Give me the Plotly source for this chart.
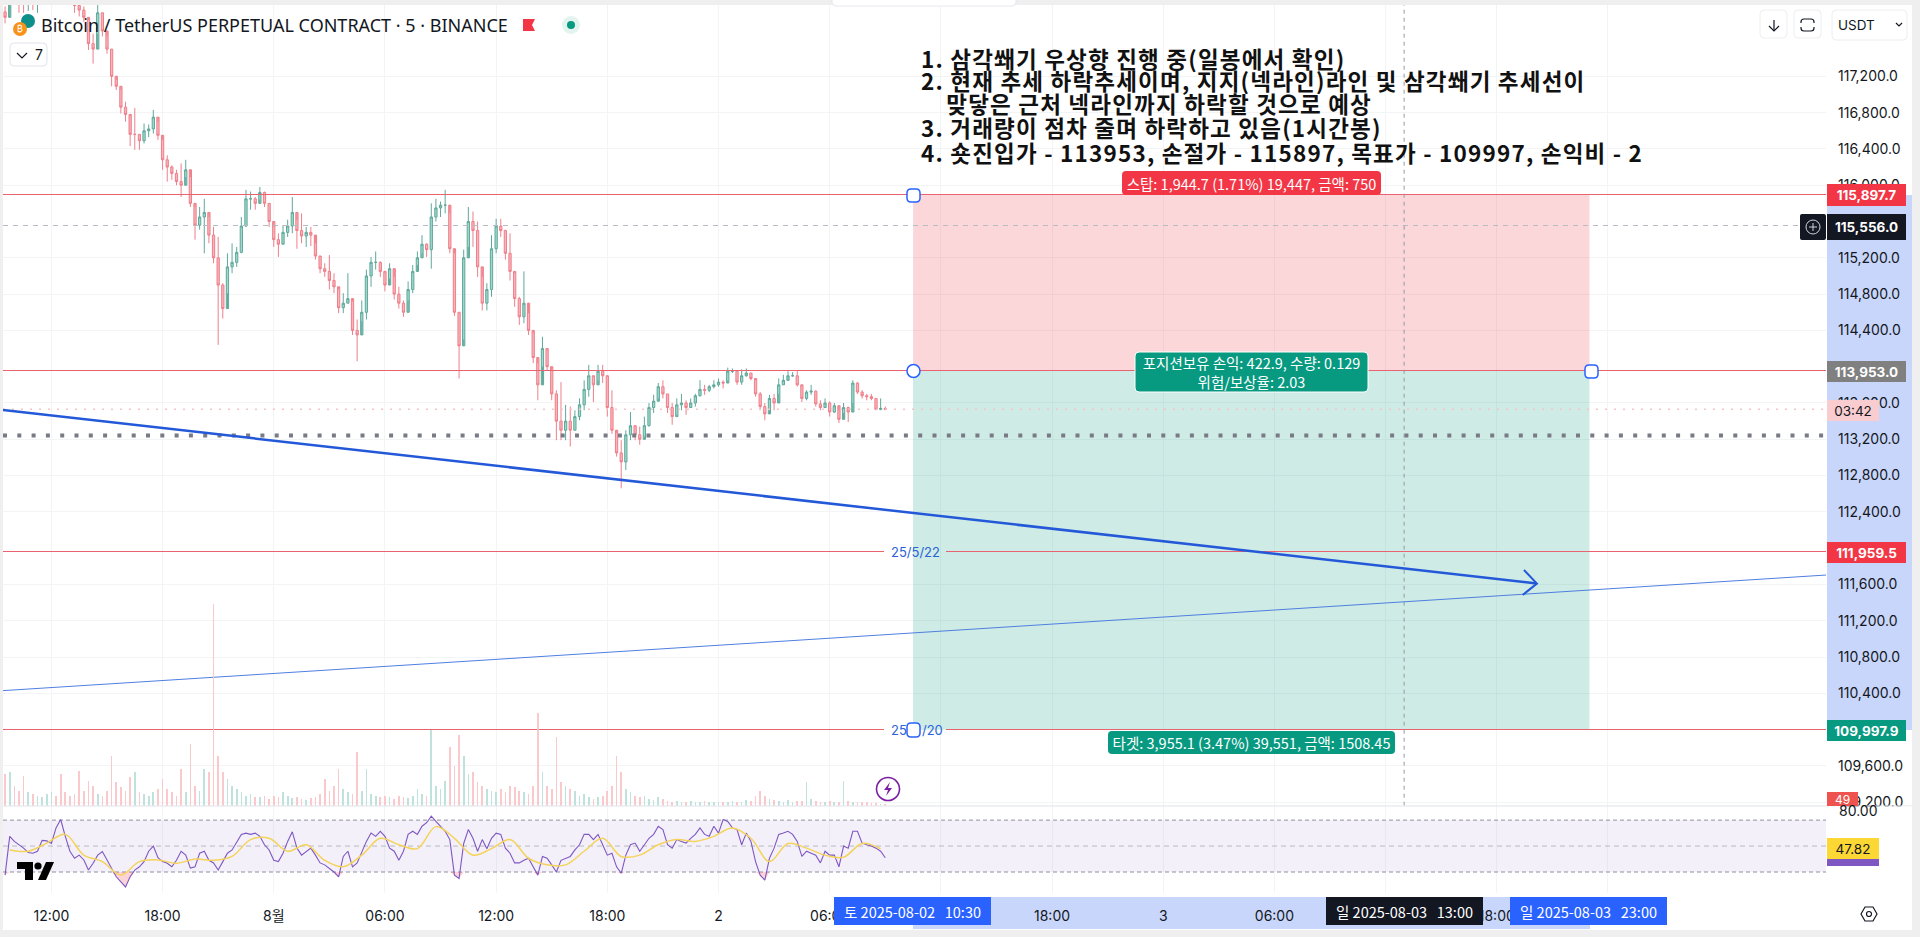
import pandas as pd
import plotly.graph_objects as go

W, H = 1920, 937

# ---------- data ----------
highs = [117970,
 118400,118350,118300,118200,118250,118200,118300,118500,118600,118700,
 118600,118500,118400,118300,118200,118100,117970,117820,117670,118000,
 117900,117640,117500,117160,117050,116920,116760,116850,116550,116680,
 116670,116830,116700,116500,116330,116220,116170,116240,116280,116090,
 115760,115760,115850,115650,115540,115430,114920,115250,115360,115320,
 115650,115950,115930,115870,115980,115930,115800,115540,115470,115560,
 115620,115870,115620,115690,115540,115540,115360,115210,115140,115230,
 115030,114850,114810,115030,114720,114520,114730,115070,115210,115270,
 115160,115030,115140,114990,114880,114730,114940,115120,115270,115450,
 115360,115800,115850,115820,115950,115690,115250,114600,115290,115760,
 115710,115600,114990,114920,115450,115630,115630,115510,115470,115030,
 114770,115050,114590,114370,114040,114330,114180,113960,113740,113830,
 113580,113560,113520,113650,113850,114020,113890,114020,114020,113890,
 113740,113270,113190,113300,113500,113340,113340,113450,113600,113690,
 113820,113850,113700,113600,113650,113700,113630,113650,113700,113850,
 113800,113800,113850,113870,113850,113990,113980,113960,113970,113980,
 113930,113850,113720,113600,113690,113700,113870,113910,113950,113940,
 113960,113780,113740,113800,113740,113630,113650,113620,113600,113520,
 113600,113560,113850,113830,113740,113700,113700,113650,113650,113560]
lows = [117784,
 118050,118100,117900,117900,117920,117930,117900,118100,118200,118300,
 118250,118200,118100,118000,117900,117860,117800,117490,117340,117670,
 117640,117450,117090,117050,116790,116700,116430,116390,116390,116460,
 116530,116570,116500,116170,116040,116060,116000,115870,116090,115760,
 115400,115510,115250,115360,115140,114240,114530,114810,115030,115100,
 115250,115540,115730,115730,115840,115760,115540,115320,115210,115360,
 115430,115470,115300,115360,115320,115330,115180,115030,114990,114850,
 114810,114590,114590,114700,114350,114060,114500,114520,114880,115070,
 114990,114830,114970,114740,114640,114550,114730,114810,115120,115250,
 115210,115080,115600,115650,115690,115250,114560,113870,114300,115320,
 115320,114990,114620,114620,114770,115250,115430,115180,114950,114660,
 114460,114480,114350,114040,113630,114000,113960,113630,113190,113190,
 113190,113120,113300,113410,113520,113670,113610,113850,113820,113450,
 113260,113010,112660,112860,113190,113190,113140,113230,113340,113490,
 113650,113650,113490,113360,113470,113520,113470,113560,113560,113670,
 113690,113720,113760,113780,113760,113850,113930,113800,113800,113890,
 113850,113670,113520,113410,113520,113520,113700,113800,113870,113890,
 113780,113610,113630,113690,113560,113520,113560,113450,113490,113380,
 113490,113390,113600,113700,113650,113630,113630,113520,113520,113520]
closes = [117850,
 118250,118200,118050,118000,118100,118050,118150,118300,118400,118500,
 118350,118300,118200,118100,117980,117930,117850,117560,117500,117900,
 117700,117500,117200,117090,116860,116780,116560,116560,116490,116600,
 116620,116750,116550,116280,116200,116130,116040,116000,116170,115800,
 115560,115650,115700,115450,115200,114900,114640,115100,115150,115260,
 115550,115850,115850,115800,115920,115800,115600,115400,115350,115480,
 115550,115700,115500,115440,115480,115450,115220,115080,115050,114950,
 114880,114650,114700,114750,114400,114350,114600,115000,115150,115150,
 115050,114900,115080,114800,114700,114600,114850,115050,115200,115350,
 115290,115650,115750,115780,115780,115300,114600,114230,115200,115600,
 115500,115100,114700,114850,115300,115550,115500,115250,115050,114750,
 114550,114700,114400,114100,113800,114200,114000,113700,113400,113300,
 113400,113300,113450,113580,113750,113900,113800,113950,113900,113550,
 113300,113050,112950,113250,113350,113250,113200,113350,113550,113620,
 113780,113700,113550,113450,113580,113600,113550,113600,113680,113750,
 113740,113780,113800,113830,113820,113950,113950,113830,113900,113930,
 113870,113700,113560,113480,113650,113600,113800,113850,113900,113900,
 113800,113650,113720,113730,113590,113550,113600,113500,113570,113420,
 113550,113500,113820,113720,113680,113670,113650,113530,113540,113530]
volumes = [950,
 1000,600,450,900,400,350,300,250,350,400,
 300,950,400,300,350,1050,450,750,600,350,
 300,450,1500,700,550,450,850,1000,400,350,
 300,400,500,800,500,400,300,1100,400,1850,
 600,450,1100,1000,6050,1500,1000,800,600,500,
 400,300,350,250,250,300,200,300,250,400,
 300,220,250,200,180,220,250,350,800,450,
 600,1100,500,400,350,1600,450,1100,350,300,
 250,300,250,200,300,250,220,300,500,350,
 300,2270,600,500,750,1750,1200,2120,1500,950,
 1000,700,600,500,450,400,500,400,600,550,
 450,400,350,600,2780,1000,600,500,2050,700,
 600,500,450,300,350,250,200,250,300,450,
 600,1500,1000,500,400,300,250,300,200,180,
 250,200,150,120,140,100,120,150,120,100,
 140,120,100,120,100,120,140,100,120,160,
 140,300,450,300,200,160,140,120,160,120,
 140,150,700,200,140,120,100,140,120,100,
 750,140,120,100,120,100,80,80,60,50,40]
rsi_values = [27.6,
 57.5,53.6,51,48.4,45,44.5,46,54.4,54,52,
 64,70.5,57.5,46,40.6,43,39.3,31.5,36.7,43,
 45.8,39.3,32.8,26.3,22.4,18.5,26.3,31.5,34,38,
 46,50,41,38,36.7,34,39,46,43,33,
 34,44.5,46,39,37,31.5,38,44.5,47,53.6,
 59,60,59,60,57.5,51,47,39,38,44.5,
 53.6,61,48.4,43,46,48.4,43,37,35.5,33,
 30,26.3,42,46,34,37,46,53.6,60,57.5,
 61.4,57.5,48.4,46,39,46,59,61.4,59,65.3,
 68,73,69,65.3,61.4,55,27.6,25,52,62.7,
 56,46,55,48,56,60,59,48.4,44.5,37,
 37,39,40.6,34,27.6,42,40.6,35.5,30,39,
 40.6,42,47,51,59,59,55,59,51,43,
 44.5,34,29,43,51,52.3,46,51,56,59,
 65.3,62.7,51,48.4,55,53.6,52.3,56,59,64,
 59,57.5,65.3,60,70.5,69,64,62.7,51,60,
 53.6,38,27.6,23.7,40.6,48.4,59,60,61.4,59,
 53.6,42,46,44.5,43,37,46,43,43,34,
 50,48.4,61.4,61.4,52.3,51,50,48.4,46,41]
rsi_ma_values = [47,46,52.3,59,43,38,27.6,38,39.3,36.7,
 40,39,42,55,56,46,51,39,34,43,
 56,51,48,65,56,43,48,55,40.6,35.5,
 35.5,46,56,42,43,51,55,53.6,57.5,64,
 56,38,52,48.4,43,41.4,52,47.82]

x_tick_times = ["2025-07-31 12:00","2025-07-31 18:00","2025-08-01 00:00","2025-08-01 06:00",
                "2025-08-01 12:00","2025-08-01 18:00","2025-08-02 00:00","2025-08-02 06:00",
                "2025-08-02 12:00","2025-08-02 18:00","2025-08-03 00:00","2025-08-03 06:00",
                "2025-08-03 12:00","2025-08-03 18:00","2025-08-04 00:00"]
x_tick_labels = ["12:00","18:00","8월","06:00","12:00","18:00","2","06:00","","18:00","3","06:00","","18:00",""]
y_ticks = [117200,116800,116400,116000,115600,115200,114800,114400,114000,113600,113200,112800,112400,112000,111600,111200,110800,110400,110000,109600,109200]
y_tick_hidden = [115600,114000,112000,110000]

stop_price, entry_price, target_price, neck_price = 115897.7, 113953.0, 109997.9, 111959.5
cross_price, dotted_price, last_price = 115556.0, 113243.0, 113530.0
box_start, box_end, cross_time = "2025-08-02 10:30", "2025-08-03 23:00", "2025-08-03 13:00"
x_start, x_end = "2025-07-31 09:23:17", "2025-08-04 11:46"
thick_t = ["2025-07-31 09:23:17", "2025-08-03 20:10"]
thick_p = [113523, 111610]
arrow_t = ["2025-08-03 19:28", "2025-08-03 20:10", "2025-08-03 19:24"]
arrow_p = [111760, 111610, 111485]
thin_t = [x_start, x_end]
thin_p = [110430, 111704]
gap_t = ["2025-08-02 08:56", "2025-08-02 12:16"]

notes = ["1. 삼각쐐기 우상향 진행 중(일봉에서 확인)",
         "2. 현재 추세 하락추세이며, 지지(넥라인)라인 및 삼각쐐기 추세선이",
         "    맞닿은 근처 넥라인까지 하락할 것으로 예상",
         "3. 거래량이 점차 줄며 하락하고 있음(1시간봉)",
         "4. 숏진입가 - 113953, 손절가 - 115897, 목표가 - 109997, 손익비 - 2"]
note_px_y = [58, 80, 103, 127, 152]

# ---------- derived ----------
times = pd.date_range("2025-07-31 09:30", periods=len(closes), freq="15min")
opens = [closes[0] + 60] + closes[:-1]
KR = "Noto Sans CJK KR"
LAT = "Inter, Noto Sans CJK KR"
INK = "#131722"
BLUE = "#2962ff"

def px(x): return x / W
def py(y): return 1 - y / H

def rrect(x0, y0, x1, y1, r=4, fill="white", line="rgba(0,0,0,0)", lw=1, layer="above"):
    a, b, c, d = px(x0), px(x1), py(y0), py(y1)
    rx, ry = r / W, r / H
    path = (f"M {a+rx} {c} L {b-rx} {c} Q {b} {c} {b} {c-ry} L {b} {d+ry} Q {b} {d} {b-rx} {d} "
            f"L {a+rx} {d} Q {a} {d} {a} {d+ry} L {a} {c-ry} Q {a} {c} {a+rx} {c} Z")
    return dict(type="path", xref="paper", yref="paper", path=path, fillcolor=fill,
                line=dict(color=line, width=lw), layer=layer)

def rect(x0, y0, x1, y1, fill, layer="above"):
    return dict(type="rect", xref="paper", yref="paper", x0=px(x0), x1=px(x1), y0=py(y0), y1=py(y1),
                fillcolor=fill, line=dict(width=0), layer=layer)

def circ(cx, cy, r, fill, line="rgba(0,0,0,0)", lw=1):
    return dict(type="circle", xref="paper", yref="paper", x0=px(cx-r), x1=px(cx+r), y0=py(cy+r), y1=py(cy-r),
                fillcolor=fill, line=dict(color=line, width=lw), layer="above")

def poly(points, fill="rgba(0,0,0,0)", line="rgba(0,0,0,0)", lw=1, close=True):
    p = " L ".join(f"{px(x)} {py(y)}" for x, y in points)
    return dict(type="path", xref="paper", yref="paper", path="M " + p + (" Z" if close else ""),
                fillcolor=fill, line=dict(color=line, width=lw), layer="above")

def txt(x, y, s, size=13, color=INK, anchor="left", bold=False, fam=LAT):
    return dict(xref="paper", yref="paper", x=px(x), y=py(y), text=f"<b>{s}</b>" if bold else s,
                showarrow=False, xanchor=anchor, yanchor="middle", borderpad=0,
                font=dict(size=size, color=color, family=fam))

def box(x0, y0, x1, y1, s, bg, color="white", size=13.5, bold=False, fam=LAT, align="center"):
    return dict(xref="paper", yref="paper", x=px(x0), y=py(y0), xanchor="left", yanchor="top",
                width=x1-x0, height=y1-y0, bgcolor=bg, borderpad=0, borderwidth=0, showarrow=False,
                align=align, valign="middle", text=f"<b>{s}</b>" if bold else s,
                font=dict(size=size, color=color, family=fam))

fig = go.Figure()

def hline(t, p, color, width=1, dash="solid", yaxis="y", xaxis="x"):
    fig.add_trace(go.Scatter(x=t, y=p, mode="lines", line=dict(color=color, width=width, dash=dash),
                             hoverinfo="skip", showlegend=False, xaxis=xaxis, yaxis=yaxis))

RED = "#e8636f"
# horizontal levels
hline([x_start, x_end], [stop_price]*2, RED)
hline([x_start, x_end], [entry_price]*2, RED)
hline([x_start, gap_t[0], None, gap_t[1], x_end], [neck_price, neck_price, None, neck_price, neck_price], RED)
hline([x_start, gap_t[0], None, gap_t[1], x_end], [target_price, target_price, None, target_price, target_price], RED)
hline([x_start, x_end], [cross_price]*2, "#b8bbc3", 1, "5px,5px")
hline([x_start, x_end], [last_price]*2, "#f7c3c6", 1.5, "2px,7px")
hline([x_start, x_end], [dotted_price]*2, "#787b86", 4, "4px,10.3px")
hline([cross_time, cross_time], [109162, 117986], "#9598a1", 1, "4px,4px")

# volume
fig.add_trace(go.Bar(x=times, y=volumes, yaxis="y2", width=15*60*1000*0.36,
                     marker=dict(color=["#bfe3dc" if c >= o else "#fac9cb" for c, o in zip(closes, opens)], line=dict(width=0)),
                     hoverinfo="skip", showlegend=False))
# candles
fig.add_trace(go.Candlestick(x=times, open=opens, high=highs, low=lows, close=closes,
                             increasing=dict(line=dict(color="#5fa89a", width=1), fillcolor="#9ed8cc"),
                             decreasing=dict(line=dict(color="#ee7f8a", width=1), fillcolor="#f8b4ba"),
                             whiskerwidth=0, hoverinfo="skip", showlegend=False))
# trend lines
hline(thin_t, thin_p, "#4f7fe0", 1)
hline(thick_t, thick_p, "#2358d8", 2.5)
hline(arrow_t, arrow_p, "#2358d8", 2)

# RSI
rsi_band_t = [x_start, x_end]
hline(rsi_band_t, [30, 30], "#8f92a0", 1, "4px,3px", "y3", "x2")
fig.add_trace(go.Scatter(x=rsi_band_t, y=[70, 70], mode="lines", line=dict(color="#8f92a0", width=1, dash="4px,3px"),
                         fill="tonexty", fillcolor="rgba(126,87,194,0.09)", hoverinfo="skip", showlegend=False,
                         xaxis="x2", yaxis="y3"))
hline(rsi_band_t, [50, 50], "#b8bbc3", 1, "5px,4px", "y3", "x2")
hline([times[0], times[-1]], [30, 30], "rgba(0,0,0,0)", 0.1, "solid", "y3", "x2")
fig.add_trace(go.Scatter(x=times, y=[min(v, 30) for v in rsi_values], mode="lines", line=dict(width=0),
                         fill="tonexty", fillcolor="rgba(242,54,69,0.22)", hoverinfo="skip", showlegend=False,
                         xaxis="x2", yaxis="y3"))
hline(times, rsi_values, "#7e57c2", 1.1, "solid", "y3", "x2")
fig.add_trace(go.Scatter(x=times[1::4], y=rsi_ma_values, mode="lines", line=dict(color="#f5d35a", width=1.5, shape="spline", smoothing=1),
                         hoverinfo="skip", showlegend=False, xaxis="x2", yaxis="y3"))

# ---------- shapes ----------
shapes = [
    rect(3, 5, 1912, 930, "white", "below"),
    rect(1827, 195, 1912, 730, "#c9d6fb", "below"),
    rect(913, 897, 1590, 929, "#c9d6fb", "below"),
    dict(type="rect", xref="x", yref="y", x0=box_start, x1=box_end, y0=entry_price, y1=stop_price,
         fillcolor="rgba(242,54,69,0.2)", line=dict(width=0), layer="between"),
    dict(type="rect", xref="x", yref="y", x0=box_start, x1=box_end, y0=target_price, y1=entry_price,
         fillcolor="rgba(8,153,129,0.2)", line=dict(width=0), layer="between"),
    rect(3, 805.5, 1912, 806.5, "#e0e3eb"),
    rect(1827, 806.5, 1912, 813, "white"),
    # top tab
    rrect(832, -6, 1016, 6, 4, "white", "#e6e8ee"),
    # position tool labels
    rrect(1122, 171, 1381, 195, 4, "#f23645"),
    rrect(1135, 352, 1368, 392, 4, "#089981", "white", 1),
    rrect(1108, 731, 1395, 754, 4, "#089981"),
    # handles
    rrect(907, 189, 920, 202, 4, "white", BLUE, 1.5),
    circ(913.5, 371, 6.5, "white", BLUE, 1.5),
    rrect(1585, 365, 1598, 378, 4, "white", BLUE, 1.5),
    rrect(907, 723, 920, 737, 4, "white", BLUE, 1.5),
    # legend chips
    rrect(10, 43, 47, 66, 4, "white", "#e0e3eb"),
    poly([(17, 53), (22, 58), (27, 53)], line=INK, lw=1.2, close=False),
    rrect(1760, 10, 1787, 38, 4, "white", "#eceef2"),
    rrect(1794, 10, 1821, 38, 4, "white", "#eceef2"),
    rrect(1832, 10, 1907, 40, 4, "white", "#eceef2"),
    poly([(1774, 20), (1774, 31)], line=INK, lw=1.2, close=False),
    poly([(1769, 26), (1774, 31), (1779, 26)], line=INK, lw=1.2, close=False),
    rrect(1801, 19, 1814, 31, 3, "rgba(0,0,0,0)", INK, 1.2),
    rect(1799, 23, 1816, 27, "white"),
    poly([(1896, 23), (1899, 26), (1902, 23)], line=INK, lw=1.2, close=False),
    # symbol icons
    circ(28, 21, 7, "#0f8f8a"),
    circ(20, 29, 7, "#f7931a"),
    # flag and status
    poly([(523, 19), (535, 19), (532, 25), (535, 31), (523, 31)], fill="#f23645"),
    circ(571, 25, 9, "#e3f4ee"),
    circ(571, 25, 4, "#089981"),
    # bolt
    circ(888, 789, 11.5, "white", "#7b1fa2", 1.6),
    poly([(890, 782), (884, 790), (888, 790), (886, 796), (892, 788), (888, 788)], fill="#7b1fa2"),
    # crosshair add button
    rrect(1800, 214, 1826, 240, 2, INK),
    circ(1813, 227, 7, INK, "#d1d4dc", 1),
    poly([(1809, 227), (1817, 227)], line="#d1d4dc", close=False),
    poly([(1813, 223), (1813, 231)], line="#d1d4dc", close=False),
    # TV logo
    poly([(17, 862), (33, 862), (33, 880), (25, 880), (25, 869), (17, 869)], fill="black"),
    circ(38, 866, 3.6, "black"),
    poly([(46, 862), (54, 862), (46, 880), (38, 880)], fill="black"),
    # gear
    poly([(1861, 914), (1865, 907), (1873, 907), (1877, 914), (1873, 921), (1865, 921)], line=INK, lw=1.2),
    circ(1869, 914, 2.5, "white", INK, 1.2),
]

# ---------- annotations ----------
anns = [
    txt(40, 25, "Bitcoin / TetherUS PERPETUAL CONTRACT · 5 · BINANCE", 18, INK, fam="Noto Sans"),
    txt(20, 29, "₿", 9, "white", "center"),
    txt(34, 54, "7", 14, INK),
    txt(1837, 25, "USDT", 13.5, INK),
    txt(915, 552, "25/5/22", 13, "#2a62d8", "center"),
    txt(899, 730, "25", 13, "#2a62d8", "center"),
    txt(932, 730, "/20", 13, "#2a62d8", "center"),
    box(1122, 171, 1381, 195, "스탑: 1,944.7 (1.71%) 19,447, 금액: 750", "rgba(0,0,0,0)", size=14.5, fam=KR),
    box(1135, 352, 1368, 392, "포지션보유 손익: 422.9, 수량: 0.129<br>위험/보상율: 2.03", "rgba(0,0,0,0)", size=14.5, fam=KR),
    box(1108, 731, 1395, 754, "타겟: 3,955.1 (3.47%) 39,551, 금액: 1508.45", "rgba(0,0,0,0)", size=14.5, fam=KR),
    box(1827, 184, 1906, 206, "115,897.7", "#f23645", bold=True),
    box(1827, 214, 1906, 240, "115,556.0", INK, bold=True),
    box(1827, 361, 1906, 382, "113,953.0", "#808080", bold=True),
    box(1827, 400, 1879, 421, "03:42", "#f9cdcf", INK),
    box(1827, 542, 1906, 563, "111,959.5", "#f23645", bold=True),
    box(1827, 720, 1906, 741, "109,997.9", "#089981", bold=True),
    box(1827, 792, 1858, 806, "49", "#ef5350", size=12),
    txt(1838, 810, "80.00", 14, INK),
    box(1827, 859, 1879, 866, "", "#7e57c2"),
    box(1827, 838, 1879, 859, "47.82", "#fdd835", INK),
    box(834, 897, 991, 925, "토 2025-08-02 &nbsp; 10:30", BLUE, fam=KR, size=14.5),
    box(1326, 897, 1483, 925, "일 2025-08-03 &nbsp; 13:00", INK, fam=KR, size=14.5),
    box(1510, 897, 1667, 925, "일 2025-08-03 &nbsp; 23:00", BLUE, fam=KR, size=14.5),
]
for s, yy in zip(notes, note_px_y):
    anns.append(dict(xref="paper", yref="paper", x=px(920), y=py(yy), text=f"<b>{s}</b>", showarrow=False, align="left",
                     xanchor="left", yanchor="middle", borderpad=0, font=dict(size=22.5, color="#111111", family=KR)))

GRID = "#f3f4f6"
dom_x = [3 / W, 1826 / W]
fig.update_layout(
    width=W, height=H, margin=dict(l=0, r=0, t=0, b=0),
    paper_bgcolor="#efefef", plot_bgcolor="rgba(0,0,0,0)",
    showlegend=False, bargap=0, hovermode=False, dragmode=False,
    xaxis=dict(type="date", domain=dom_x, range=[x_start, x_end], anchor="y", showticklabels=False, ticks="",
               tickvals=x_tick_times, showgrid=True, gridcolor=GRID, gridwidth=1, zeroline=False, showline=False,
               automargin=False, rangeslider=dict(visible=False)),
    xaxis2=dict(type="date", domain=dom_x, range=[x_start, x_end], anchor="y3", ticks="", automargin=False,
                tickvals=x_tick_times, ticktext=x_tick_labels, ticklabelstandoff=13,
                tickfont=dict(size=14, color=INK, family=LAT),
                showgrid=True, gridcolor=GRID, gridwidth=1, zeroline=False, showline=False),
    yaxis=dict(domain=[py(805.7), py(5)], range=[109162, 117986], side="right", anchor="x", ticks="", automargin=False,
               tickvals=[v for v in y_ticks if v not in y_tick_hidden],
               ticktext=[f"{v:,.1f}" for v in y_ticks if v not in y_tick_hidden],
               ticklabelstandoff=11, tickfont=dict(size=14, color=INK, family=LAT),
               showgrid=True, gridcolor=GRID, gridwidth=1, zeroline=False, showline=False),
    yaxis2=dict(domain=[py(805.7), py(5)], range=[0, 24020], overlaying="y", side="left", anchor="x", automargin=False,
                visible=False, showgrid=False, zeroline=False),
    yaxis3=dict(domain=[py(893), py(806)], range=[13.8, 80.9], side="right", anchor="x2", showticklabels=False, automargin=False,
                ticks="", showgrid=False, zeroline=False, showline=False),
    shapes=shapes, annotations=anns,
)

fig.write_html("out.html", config=dict(displayModeBar=False, staticPlot=True),
               post_script=("document.documentElement.style.cssText='margin:0;padding:0;height:937px;overflow:hidden';"
                            "document.body.style.cssText='margin:0;padding:0;height:937px;overflow:hidden';"
                            "document.querySelectorAll('.annotation-text').forEach(function(t){"
                            "if(parseFloat(t.style.fontSize)===22.5){t.style.letterSpacing='1.2px';}});"
                            "document.querySelectorAll('.scatterlayer path.js-line').forEach(function(p){"
                            "if(p.style.stroke==='rgb(232, 99, 111)'){p.style.shapeRendering='crispEdges';}});"))
